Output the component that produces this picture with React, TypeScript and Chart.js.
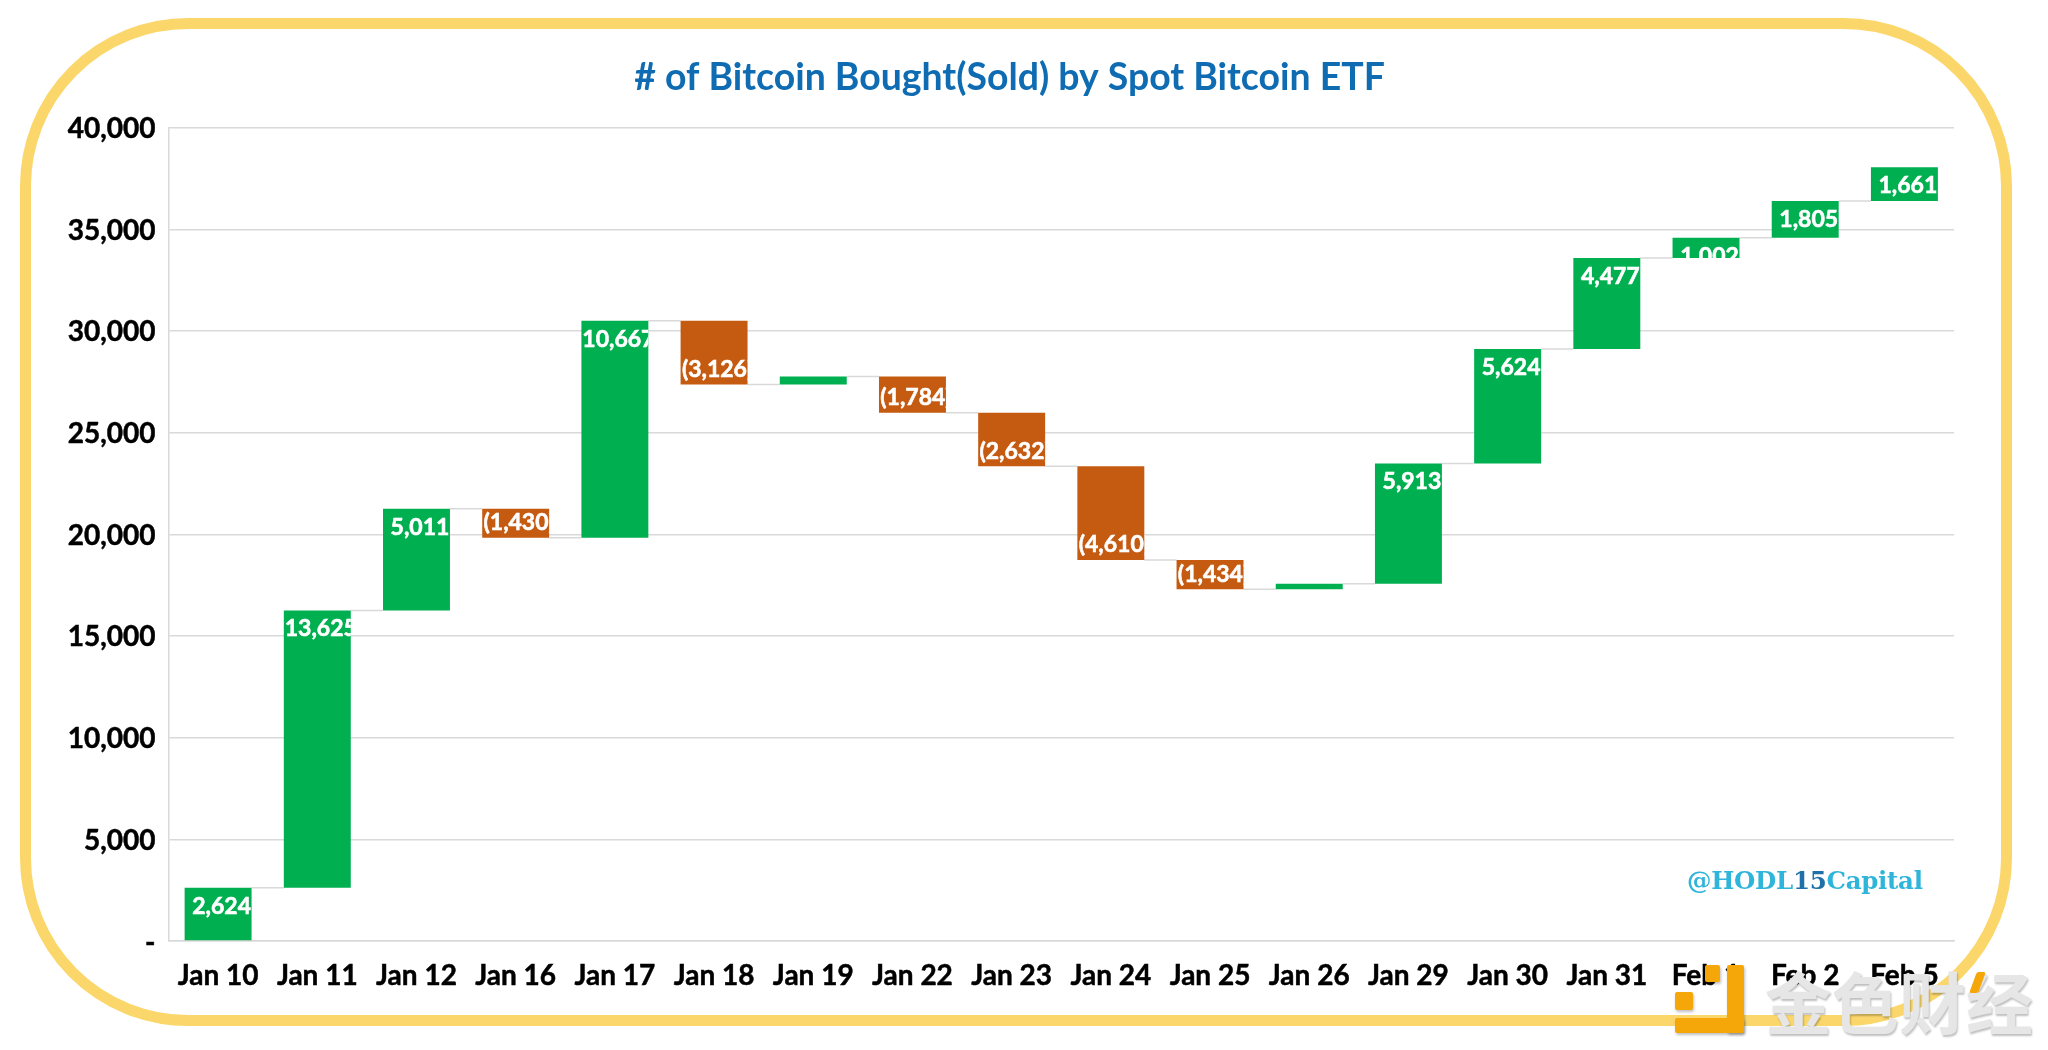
import React, { useEffect, useRef } from "react";
import { Chart, registerables } from "chart.js";

Chart.register(...registerables);

const categories = ["Jan 10", "Jan 11", "Jan 12", "Jan 16", "Jan 17", "Jan 18", "Jan 19", "Jan 22", "Jan 23", "Jan 24", "Jan 25", "Jan 26", "Jan 29", "Jan 30", "Jan 31", "Feb 1", "Feb 2", "Feb 5"];
const changes = [2624, 13625, 5011, -1430, 10667, -3126, 391, -1784, -2632, -4610, -1434, 270, 5913, 5624, 4477, 1002, 1805, 1661];
const labels = ["2,624", "13,625", "5,011", "(1,430)", "10,667", "(3,126)", "", "(1,784)", "(2,632)", "(4,610)", "(1,434)", "", "5,913", "5,624", "4,477", "1,002", "1,805", "1,661"];
const titleText = "# of Bitcoin Bought(Sold) by Spot Bitcoin ETF";
const GREEN = "#00B050";
const ORANGE = "#C55A11";
const GRID = "#D9D9D9";
const FONT = "Lato";

const running: number[] = [];
changes.reduce((sum, c) => {
  const next = sum + c;
  running.push(next);
  return next;
}, 0);
const floating = changes.map((c, i) => [running[i] - c, running[i]]);

const waterfallPlugin = {
  id: "waterfall",
  afterLayout(chart: any) {
    // centre the title block over the reference's title position
    chart.titleBlock.left = 65;
    chart.titleBlock.right = chart.chartArea.right;
  },
  beforeDatasetsDraw(chart: any) {
    const { ctx } = chart;
    const y = chart.scales.y;
    const bars = chart.getDatasetMeta(0).data;
    ctx.save();
    ctx.strokeStyle = GRID;
    ctx.lineWidth = 1.5;
    for (let i = 0; i < bars.length - 1; i++) {
      const yy = y.getPixelForValue(running[i]);
      ctx.beginPath();
      ctx.moveTo(bars[i].x + bars[i].width / 2, yy);
      ctx.lineTo(bars[i + 1].x - bars[i + 1].width / 2, yy);
      ctx.stroke();
    }
    ctx.restore();
  },
  afterDatasetsDraw(chart: any) {
    const { ctx } = chart;
    const y = chart.scales.y;
    const bars = chart.getDatasetMeta(0).data;
    bars.forEach((bar: any, i: number) => {
      if (!labels[i]) return;
      const top = y.getPixelForValue(Math.max(...floating[i]));
      const bottom = y.getPixelForValue(Math.min(...floating[i]));
      const left = bar.x - bar.width / 2;
      ctx.save();
      ctx.beginPath();
      ctx.rect(left, top, bar.width, bottom - top);
      ctx.clip();
      ctx.fillStyle = "#FFFFFF";
      ctx.strokeStyle = "#FFFFFF";
      ctx.lineWidth = 0.6;
      ctx.font = `bold 23px ${FONT}`;
      ctx.textAlign = "center";
      ctx.textBaseline = "middle";
      const ly = changes[i] >= 0 ? top + 18.5 : bottom - 15;
      ctx.fillText(labels[i], bar.x + 3.5, ly);
      ctx.strokeText(labels[i], bar.x + 3.5, ly);
      ctx.restore();
    });
  },
};

export default function App() {
  const ref = useRef<HTMLCanvasElement | null>(null);
  useEffect(() => {
    const chart = new Chart(ref.current as HTMLCanvasElement, {
      type: "bar",
      data: {
        labels: categories,
        datasets: [
          {
            data: floating as any,
            backgroundColor: changes.map((c) => (c >= 0 ? GREEN : ORANGE)),
            borderWidth: 0,
            barPercentage: 0.675,
            categoryPercentage: 1,
          },
        ],
      },
      options: {
        responsive: false,
        animation: false,
        devicePixelRatio: 1,
        layout: { padding: { left: 0, right: 46, top: 0, bottom: 0 } },
        plugins: {
          legend: { display: false },
          tooltip: { enabled: false },
          title: {
            display: true,
            text: titleText,
            color: "#0F6CB2",
            font: { family: FONT, size: 37.4, weight: "bold", lineHeight: 1.2 },
            padding: { top: 55, bottom: 27.7 },
          },
        },
        scales: {
          x: {
            grid: { display: false },
            border: { color: GRID, width: 1.5 },
            ticks: {
              color: "#000",
              font: { family: FONT, size: 28, weight: "bold" },
              textStrokeColor: "#000",
              textStrokeWidth: 0.5,
              padding: 10,
              maxRotation: 0,
              autoSkip: false,
            },
            afterFit: (s: any) => { s.height = 109; },
          },
          y: {
            min: 0,
            max: 40000,
            grid: { color: GRID, lineWidth: 1.5, drawTicks: false },
            border: { color: GRID, width: 1.5 },
            ticks: {
              stepSize: 5000,
              color: "#000",
              padding: 13,
              labelOffset: 1.5,
              font: { family: FONT, size: 28, weight: "bold" },
              textStrokeColor: "#000",
              textStrokeWidth: 0.5,
              callback: (v: any) => (v === 0 ? "-" : Number(v).toLocaleString("en-US")),
            },
            afterFit: (s: any) => { s.width = 168.5; },
          },
        },
      },
      plugins: [waterfallPlugin],
    } as any);
    return () => chart.destroy();
  }, []);

  const box = (l: number, t: number, w: number, h: number, extra: any = {}) => ({
    position: "absolute" as const, left: l, top: t, width: w, height: h, background: "#F5A70A", borderRadius: 2, boxShadow: "1px 2px 3px rgba(0,0,0,0.25)", ...extra,
  });

  return (
    <div style={{ position: "fixed", left: 0, top: 0, width: 2048, height: 1050, background: "#fff", overflow: "hidden" }}>
      <div style={{ position: "absolute", left: 20, top: 17.5, width: 1992, height: 1008.5, boxSizing: "border-box", border: "11px solid #FBD76B", borderRadius: 168 }} />
      <canvas ref={ref} width={2000} height={1050} style={{ position: "absolute", left: 0, top: 0, display: "block" }} />
      <div style={{ position: "absolute", left: 1687, top: 866, font: "bold 24.5px 'DejaVu Serif'", color: "#2FB4DA", whiteSpace: "nowrap", lineHeight: "30px", letterSpacing: "-0.3px" }}>
        @HODL<span style={{ color: "#1F6FA8" }}>15</span>Capital
      </div>
      <div style={box(1705, 965, 15, 17)} />
      <div style={box(1675, 992, 18, 18)} />
      <div style={box(1727, 965, 17, 68)} />
      <div style={box(1675, 1018, 69, 15)} />
      <div style={{ position: "absolute", left: 1765, top: 955, font: "700 67px 'Noto Sans CJK SC'", color: "#E6E6E6", lineHeight: "90px", whiteSpace: "nowrap", textShadow: "1px 2px 2px rgba(0,0,0,0.25)" }}>金色财经</div>
      <div style={box(1973, 972, 9, 21, { transform: "skewX(-20deg)", boxShadow: "none" })} />
    </div>
  );
}
